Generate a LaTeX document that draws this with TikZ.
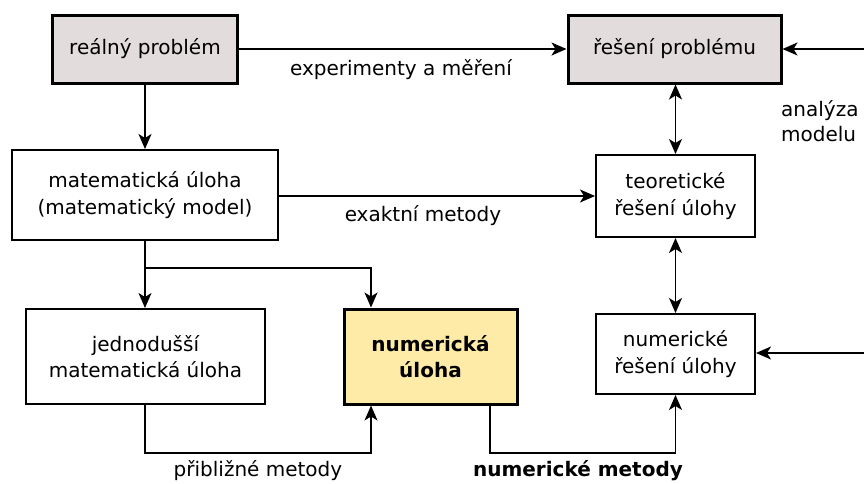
\documentclass[tikz,border=0pt]{standalone}
\usepackage{fontspec}
\setmainfont{DejaVu Sans}
\usetikzlibrary{arrows.meta}
\definecolor{boxgrey}{HTML}{E2DCDC}
\definecolor{boxyellow}{HTML}{FFEBA8}
\begin{document}
\begin{tikzpicture}[x=1pt,y=-1pt,
  every node/.style={font=\fontsize{20}{26.5}\selectfont, align=center, inner sep=0pt},
  thickbox/.style={draw, line width=3pt, rectangle},
  thinbox/.style={draw, line width=2pt, rectangle, fill=white},
  conn/.style={line width=1.4pt, -{Stealth[length=15pt,width=13pt,inset=4pt]}},
  biconn/.style={line width=1.4pt, {Stealth[length=15pt,width=13pt,inset=4pt]}-{Stealth[length=15pt,width=13pt,inset=4pt]}},
  lbl/.style={font=\fontsize{20}{24}\selectfont}
]
\useasboundingbox (0,0) rectangle (864,483);
% boxes
\node[thickbox, fill=boxgrey, minimum width=185pt, minimum height=68pt] (rp) at (145,49) {reálný problém};
\node[thickbox, fill=boxgrey, minimum width=213pt, minimum height=68pt] (rs) at (674.5,49) {řešení problému};
\node[thinbox, minimum width=266pt, minimum height=90pt] (mu) at (145,195) {matematická úloha\\(matematický model)};
\node[thinbox, minimum width=159pt, minimum height=82pt] (tr) at (675.5,196) {teoretické\\řešení úlohy};
\node[thinbox, minimum width=239pt, minimum height=95pt] (jm) at (145.5,356.5) {jednodušší\\matematická úloha};
\node[thickbox, fill=boxyellow, minimum width=173pt, minimum height=95pt, font=\fontsize{20}{26.5}\selectfont\bfseries] (nu) at (430.5,356.5) {numerická\\úloha};
\node[thinbox, minimum width=159pt, minimum height=80pt] (nr) at (675.5,354) {numerické\\řešení úlohy};
% free ends
\coordinate (rin) at (864,49);
\coordinate (nin) at (864,353);
\coordinate (br) at (145,268);
\coordinate (bl) at (145,453);
\coordinate (bn) at (490,453);
% connectors
\draw[conn] (rp.east) -- (rs.west);
\draw[conn] (rin) -- (rs.east);
\draw[conn] (nin) -- (nr.east |- nin);
\draw[conn] (rp.south) -- (mu.north);
\draw[conn] (mu.east |- tr) -- (tr.west);
\draw[biconn] (rs.south -| tr.north) -- (tr.north);
\draw[biconn] (tr.south) -- (nr.north);
\draw[conn] (mu.south) -- (jm.north -| mu.south);
\draw[conn] (br) -| (nu.north -| 371,0);
\draw[conn] (jm.south -| bl) -- (bl) -| (nu.south -| 371,0);
\draw[conn] (nu.south -| bn) -- (bn) -| (nr.south);
% labels
\node[lbl] (l1) at (401,70) {experimenty a měření};
\node[lbl] (l2) at (423,216) {exaktní metody};
\node[lbl, anchor=west, align=left, font=\fontsize{20}{25}\selectfont] (l3) at (781,121) {analýza\\modelu};
\node[lbl] (l4) at (258,471) {přibližné metody};
\node[lbl, font=\fontsize{20}{24}\selectfont\bfseries] (l5) at (578,471) {numerické metody};
\end{tikzpicture}
\end{document}
